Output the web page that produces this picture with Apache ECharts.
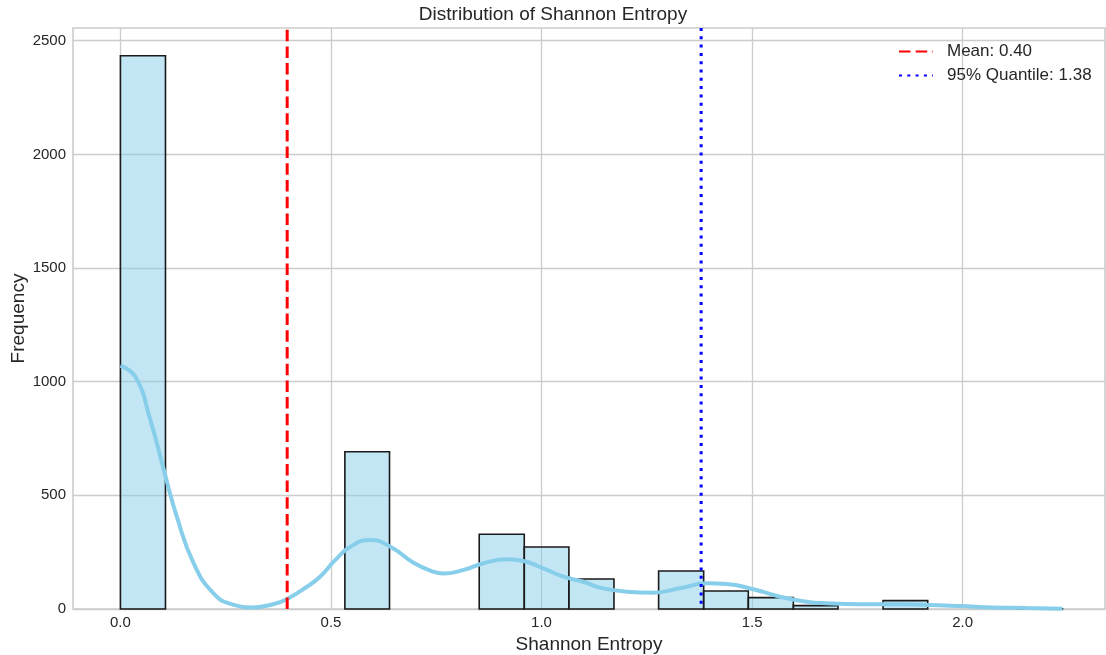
<!DOCTYPE html>
<html>
<head>
<meta charset="utf-8">
<script src="https://cdn.jsdelivr.net/npm/echarts@6/dist/echarts.min.js"></script>
<style>html,body{margin:0;padding:0;background:#fff}#c{width:1106px;height:655px}</style>
</head>
<body>
<div id="c"></div>
<script>
// Histogram bins (start, end) and counts
const binStarts = [0.000,0.107,0.213,0.320,0.426,0.533,0.639,0.746,0.852,0.959,1.065,1.172,1.278,1.385,1.491,1.598,1.704,1.811,1.917,2.024,2.130];
const binEnds   = [0.107,0.213,0.320,0.426,0.533,0.639,0.746,0.852,0.959,1.065,1.172,1.278,1.385,1.491,1.598,1.704,1.811,1.917,2.024,2.130,2.237];
const binCounts = [2434,0,0,0,0,692,0,0,329,273,132,0,167,79,50,15,0,37,0,0,1];

// KDE curve (scaled to counts)
const kdeX = [0,0.036,0.071,0.103,0.134,0.174,0.221,0.269,0.316,0.364,0.395,0.443,0.474,0.510,0.546,0.593,0.641,0.695,0.740,0.767,0.815,0.862,0.917,0.957,1.004,1.052,1.099,1.139,1.202,1.265,1.328,1.392,1.439,1.503,1.566,1.629,1.676,1.756,1.835,1.914,1.993,2.072,2.151,2.237];
const kdeY = [1070,1020,832,612,406,201,69,18,7,22,43,98,142,215,274,304,274,205,166,156,172,201,219,211,179,142,120,94,76,72,91,113,110,87,54,32,25,21,21,18,13,7,4,1];

const meanValue = 0.396;
const quantileValue = 1.379;
const meanLabel = 'Mean: 0.40';
const quantileLabel = '95% Quantile: 1.38';

const xTicks = [0, 0.5, 1.0, 1.5, 2.0];
const yTicks = [0, 500, 1000, 1500, 2000, 2500];
const xMin = -0.1126, xMax = 2.338;
const yMin = 0, yMax = 2556;

const barData = [];
for (let i = 0; i < binCounts.length; i++) {
  if (binCounts[i] > 0) barData.push([binStarts[i], binEnds[i], binCounts[i]]);
}
const kdeData = kdeX.map((x, i) => [x, kdeY[i]]);

const FONT = 'Liberation Sans, Arial, sans-serif';
const TXT = '#262626';
const GRID = '#cccccc';

const chart = echarts.init(document.getElementById('c'), null, {renderer: 'canvas'});
chart.setOption({
  animation: false,
  backgroundColor: '#ffffff',
  textStyle: {fontFamily: FONT},
  title: {
    text: 'Distribution of Shannon Entropy',
    left: 'center', top: 5, padding: 0,
    textStyle: {fontFamily: FONT, fontSize: 19, fontWeight: 'normal', color: TXT}
  },
  legend: {
    orient: 'vertical',
    left: 893, top: 38,
    itemWidth: 34, itemHeight: 14, itemGap: 7,
    data: [meanLabel, quantileLabel],
    itemStyle: {opacity: 0},
    textStyle: {fontFamily: FONT, fontSize: 17, color: TXT, padding: [0, 0, 0, 9]}
  },
  grid: {
    left: 73, top: 28, right: 1, bottom: 46,
    outerBoundsMode: 'none', containLabel: false,
    show: true, borderColor: GRID, borderWidth: 1.6, backgroundColor: '#ffffff'
  },
  xAxis: {
    type: 'value', min: xMin, max: xMax,
    name: 'Shannon Entropy', nameLocation: 'middle', nameGap: 26, nameMoveOverlap: false,
    nameTextStyle: {fontFamily: FONT, fontSize: 19, color: TXT},
    axisLine: {show: false},
    axisTick: {show: false, customValues: xTicks},
    axisLabel: {customValues: xTicks, fontFamily: FONT, fontSize: 15, color: TXT, margin: 6,
      formatter: v => v.toFixed(1)},
    splitLine: {show: true, lineStyle: {color: GRID, width: 1.3}}
  },
  yAxis: {
    type: 'value', min: yMin, max: yMax,
    name: 'Frequency', nameLocation: 'middle', nameGap: 45, nameMoveOverlap: false,
    nameTextStyle: {fontFamily: FONT, fontSize: 19, color: TXT},
    axisLine: {show: false},
    axisTick: {show: false, customValues: yTicks},
    axisLabel: {customValues: yTicks, fontFamily: FONT, fontSize: 15, color: TXT, margin: 7,
      formatter: v => String(Math.round(v))},
    splitLine: {show: true, lineStyle: {color: GRID, width: 1.3}}
  },
  series: [
    {
      type: 'custom', name: 'hist', z: 2,
      data: barData,
      encode: {x: [0, 1], y: 2},
      renderItem: function (params, api) {
        const p0 = api.coord([api.value(0), api.value(2)]);
        const p1 = api.coord([api.value(1), 0]);
        return {
          type: 'rect',
          shape: {x: p0[0], y: p0[1], width: p1[0] - p0[0], height: p1[1] - p0[1]},
          style: {fill: 'rgba(135,206,235,0.5)', stroke: '#1a1a1a', lineWidth: 1.6}
        };
      }
    },
    {
      type: 'line', name: 'kde', z: 3,
      data: kdeData, smooth: 0.5, showSymbol: false, symbol: 'none',
      lineStyle: {color: '#87ceeb', width: 4}
    },
    {
      type: 'line', name: meanLabel, z: 4,
      data: [[meanValue, yMin], [meanValue, yMax]], symbol: 'none',
      itemStyle: {color: '#ff0000'},
      lineStyle: {color: '#ff0000', width: 3, type: [11.5, 5.2], cap: 'butt'}
    },
    {
      type: 'line', name: quantileLabel, z: 4,
      data: [[quantileValue, yMax], [quantileValue, yMin]], symbol: 'none',
      itemStyle: {color: '#0000ff'},
      lineStyle: {color: '#0000ff', width: 3, type: [3, 5.3], cap: 'butt'}
    }
  ]
});
</script>
</body>
</html>
